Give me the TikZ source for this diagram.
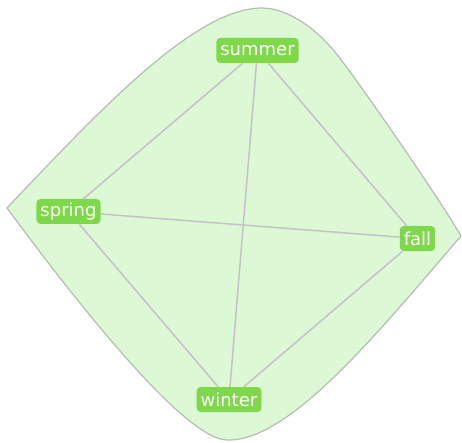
\documentclass[tikz,border=0pt]{standalone}
\usepackage{fontspec}
\newfontfamily\lblfont{DejaVu Sans}
\definecolor{hullfill}{HTML}{DCF8D5}
\definecolor{hullline}{HTML}{B4BDB1}
\definecolor{nodegreen}{HTML}{7ED84A}
\definecolor{edgegray}{HTML}{C4C2C8}
\tikzset{
  season/.style={fill=nodegreen, text=white, rounded corners=4pt,
    minimum height=25pt, inner xsep=4pt, inner ysep=0pt,
    font=\lblfont\fontsize{18}{18}\selectfont},
  link/.style={draw=edgegray, line width=1.5pt},
  hull/.style={fill=hullfill, draw=hullline, line width=1.2pt}
}
\begin{document}
\begin{tikzpicture}[x=1pt,y=-1pt]
\useasboundingbox (0,0) rectangle (462,443);
\draw[hull] (7,208) .. controls (100,110) and (195,8) .. (262,8)
  .. controls (290,8) and (320,32) .. (339,57)
  .. controls (365,91) and (439,198) .. (461,236)
  .. controls (380,330) and (290,442) .. (227,440)
  .. controls (182,440) and (60,280) .. cycle;
\node[season] (summer) at (257.5,50.5) {summer};
\node[season] (spring) at (68.5,211.5) {spring};
\node[season] (fall) at (417.5,238.5) {fall};
\node[season] (winter) at (229,399.5) {winter};
\draw[link] (summer) -- (spring);
\draw[link] (summer) -- (winter);
\draw[link] (summer) -- (fall);
\draw[link] (spring) -- (fall);
\draw[link] (spring) -- (winter);
\draw[link] (winter) -- (fall);
\end{tikzpicture}
\end{document}
